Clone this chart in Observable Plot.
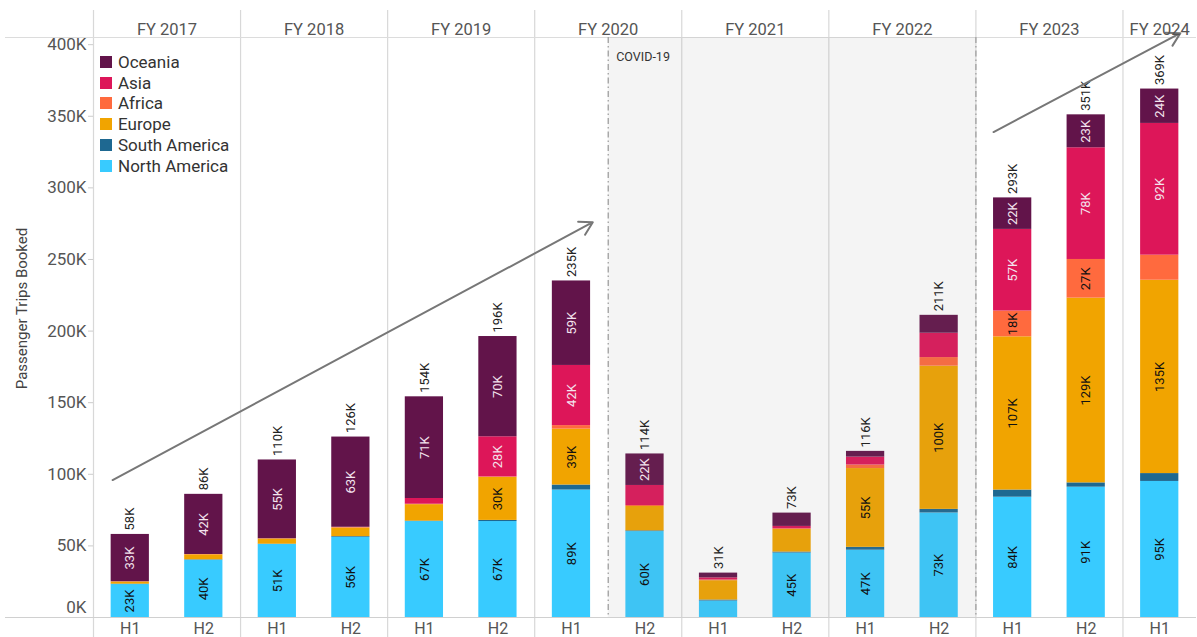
<!DOCTYPE html>
<html><head><meta charset="utf-8">
<script src="https://cdn.jsdelivr.net/npm/d3@7"></script>
<script src="https://cdn.jsdelivr.net/npm/@observablehq/plot@0.6"></script>
<style>
body{margin:0;background:#fff;font-family:Roboto,sans-serif;}
#wrap{position:relative;width:1197px;height:637px;overflow:hidden;}
#legend{position:absolute;left:100px;top:51.5px;font-size:17px;color:#333;}
.item{display:flex;align-items:center;height:20.8px;white-space:nowrap;}
.sw{width:12px;height:12px;margin-right:6px;}
</style></head><body><div id="wrap"><div id="legend"></div></div>
<script>
// ---- data ----
const fiscalYears = ["FY 2017","FY 2018","FY 2019","FY 2020","FY 2021","FY 2022","FY 2023","FY 2024"];
const periodYear  = ["FY 2017","FY 2017","FY 2018","FY 2018","FY 2019","FY 2019","FY 2020","FY 2020","FY 2021","FY 2021","FY 2022","FY 2022","FY 2023","FY 2023","FY 2024"];
const periodHalf  = ["H1","H2","H1","H2","H1","H2","H1","H2","H1","H2","H1","H2","H1","H2","H1"];
const regions = ["North America","South America","Europe","Africa","Asia","Oceania"]; // stack order
const regionColors = ["#38cbff","#1e6891","#f1a400","#ff6a3e","#dd1659","#62144a"];
const northAmerica = [23,40,51,56,67,67,89,60,11.5,45,47,73,84,91,95];
const southAmerica = [0.3,0.3,0.2,0.5,0.3,0.8,3.5,0.5,0.7,0.7,2,2.5,5,3,5.5];
const europe       = [1.5,3.5,3.6,6,11.5,30,39,17,13.5,15.8,55,100,107,129,135];
const africa       = [0.2,0.2,0.2,0.5,0.3,0.4,2.5,0.7,0.5,0.5,2.5,6,18,27,17.5];
const asia         = [0,0,0,0,4,28,42,14,1.5,1.6,5.5,17,57,78,92];
const oceania      = [33,42,55,63,71,70,59,22,3.3,9.3,4,12.5,22,23,24];
const totals       = [58,86,110,126,154,196,235,114,31,73,116,211,293,351,369];
const yTicks = [50,100,150,200,250,300,350,400];
const covidFrom = "FY 2020 H2", covidTo = "FY 2022 H2";
const covidLabel = "COVID-19";
// trend arrows: [x index, value K]
const trendArrows = [
  {x1:-0.24, y1:96, x2:6.29, y2:276},
  {x1:11.74, y1:339, x2:14.28, y2:408}
];
const axisTitle = "Passenger Trips Booked";

// ---- derived ----
const series = [northAmerica, southAmerica, europe, africa, asia, oceania];
const keys = periodYear.map((y,i)=>`${y} ${periodHalf[i]}`);
const rows = [];
periodYear.forEach((_, i) => {
  let base = 0;
  regions.forEach((r, k) => {
    const v = series[k][i];
    rows.push({i, region: r, y1: base, y2: base + v, v});
    base += v;
  });
});
const tops = periodYear.map((_, i) => ({i, top: d3.sum(series, s => s[i]), label: totals[i] + "K"}));
const yearLabels = fiscalYears.map(y => {
  const idx = periodYear.map((p,i)=>p===y?i:-1).filter(i=>i>=0);
  return {y, center: d3.mean(idx), start: d3.min(idx) - 0.5};
});
const covid = [{a: keys.indexOf(covidFrom) - 0.5, b: keys.indexOf(covidTo) + 0.5}];
const darkRegions = new Set(["Asia","Oceania"]);
const segLabels = rows.filter(d => d.v >= 18);
const hw = 0.26;

const chart = Plot.plot({
  width: 1197, height: 637,
  marginLeft: 93, marginRight: 1, marginTop: 37, marginBottom: 20,
  x: {domain: [-0.5, periodYear.length - 0.5], axis: null},
  y: {domain: [0, 405], axis: null},
  color: {domain: regions, range: regionColors},
  style: {fontFamily: "Roboto, sans-serif", overflow: "visible", background: "white"},
  marks: [
    Plot.ruleX(yearLabels, {x: "start", stroke: "#d8d8d8", strokeWidth: 1.2, insetTop: -27, insetBottom: -20}),
    Plot.ruleY([405], {stroke: "#dcdcdc", strokeWidth: 1.2, insetLeft: -88}),
    Plot.rect(rows, {x1: d => d.i - hw, x2: d => d.i + hw, y1: "y1", y2: "y2", fill: "region"}),
    Plot.rect(covid, {x1: "a", x2: "b", fill: "#888", fillOpacity: 0.09}),
    Plot.ruleX(covid.flatMap(c => [c.a, c.b]), {stroke: "#a0a0a0", strokeWidth: 1.3, strokeDasharray: "6,3,1.5,3"}),
    Plot.text(covid, {x: "a", text: () => covidLabel, frameAnchor: "top", dx: 8, dy: 15, textAnchor: "start", fontSize: 12.5, fill: "#333"}),
    Plot.ruleY([0], {stroke: "#d0d0d0", strokeWidth: 1.2, insetLeft: -88}),
    Plot.text(segLabels.filter(d => darkRegions.has(d.region)), {x: "i", y: d => (d.y1 + d.y2) / 2, text: d => Math.round(d.v) + "K", rotate: -90, fontSize: 13, fill: "#f4e4ee"}),
    Plot.text(segLabels.filter(d => !darkRegions.has(d.region)), {x: "i", y: d => (d.y1 + d.y2) / 2, text: d => Math.round(d.v) + "K", rotate: -90, fontSize: 13, fill: "#111"}),
    Plot.text(tops, {x: "i", y: "top", text: "label", rotate: -90, textAnchor: "start", dy: -4, fontSize: 13, fill: "#222"}),
    Plot.arrow(trendArrows, {x1: "x1", y1: "y1", x2: "x2", y2: "y2", stroke: "#777", strokeWidth: 2, headLength: 11}),
    Plot.text(yearLabels, {x: "center", text: "y", frameAnchor: "top", dy: -14.5, fontSize: 16.5, fill: "#555"}),
    Plot.axisY({ticks: yTicks, tickSize: 5, tickFormat: () => "", stroke: "#cccccc"}),
    Plot.axisY({ticks: yTicks, tickSize: 0, tickPadding: 7, tickFormat: d => d + "K", fontSize: 17, fill: "#555"}),
    Plot.text([0], {y: d => d, frameAnchor: "left", text: d => d + "K", textAnchor: "end", dx: -7, dy: -10, fontSize: 17, fill: "#555"}),
    Plot.axisX({ticks: d3.range(periodHalf.length), tickSize: 0, tickPadding: 5, tickFormat: i => periodHalf[i], fontSize: 16, fill: "#555"}),
    Plot.text([axisTitle], {frameAnchor: "left", text: d => d, rotate: -90, textAnchor: "middle", dx: -71, dy: -19, fontSize: 15, fill: "#444"})
  ]
});
const wrap = document.getElementById("wrap");
wrap.insertBefore(chart, wrap.firstChild);
const legend = document.getElementById("legend");
regions.slice().reverse().forEach(r => {
  const it = document.createElement("div"); it.className = "item";
  const sw = document.createElement("div"); sw.className = "sw";
  sw.style.background = regionColors[regions.indexOf(r)];
  const tx = document.createElement("span"); tx.textContent = r;
  it.appendChild(sw); it.appendChild(tx); legend.appendChild(it);
});
</script></body></html>
